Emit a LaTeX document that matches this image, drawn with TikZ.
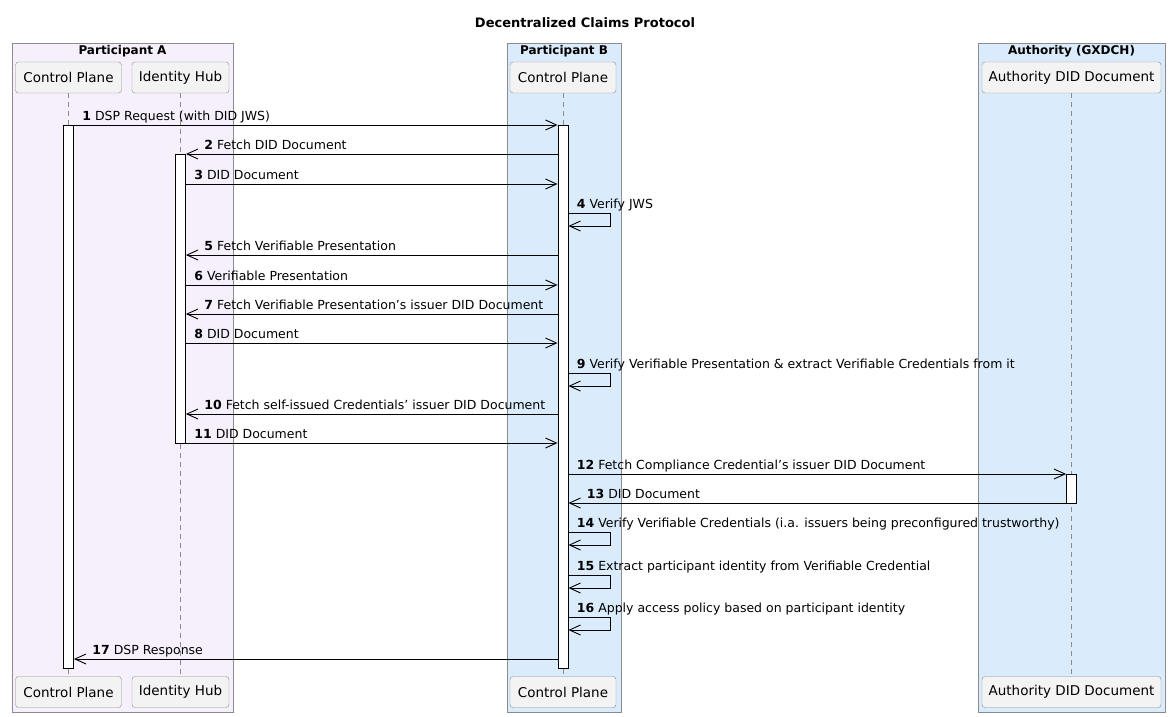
\documentclass[tikz,border=0pt]{standalone}
\usepackage{fontspec}
\setmainfont{DejaVu Sans}
\usetikzlibrary{arrows.meta}
\definecolor{lavender}{HTML}{F5F0FC}
\definecolor{paleblue}{HTML}{DAEBFC}
\definecolor{headgray}{HTML}{F3F3F3}
\definecolor{edgegray}{HTML}{8C8C8C}

\begin{document}
\begin{tikzpicture}[
    x=1pt, y=-1pt,
    font=\fontsize{12.5}{15}\selectfont,
    group/.style={rectangle, draw=edgegray, line width=0.9pt, inner sep=0pt, minimum height=669pt},
    grouptitle/.style={anchor=north, inner sep=3pt, font=\fontsize{12}{15}\selectfont\bfseries},
    actor/.style={rectangle, draw=edgegray, fill=headgray, rounded corners=3pt, minimum height=31pt, inner sep=0pt, font=\fontsize{13.5}{16}\selectfont},
    life/.style={draw=edgegray, dash pattern=on 5pt off 4pt, line width=0.8pt},
    bar/.style={rectangle, draw, fill=white, minimum width=10pt, inner sep=0pt, line width=0.9pt},
    msg/.style={-{Straight Barb[length=11pt, width=10pt]}, line width=0.9pt},
    lblr/.style={anchor=base west, pos=0, xshift=8pt, yshift=5pt, inner sep=0pt},
    lbll/.style={anchor=base west, pos=1, xshift=18pt, yshift=5pt, inner sep=0pt},
    lbls/.style={anchor=base west, xshift=8pt, yshift=5pt, inner sep=0pt}
]

\useasboundingbox (0,0) rectangle (1170,717);

\node[font=\fontsize{13}{15}\selectfont\bfseries] (title) at (585,23) {Decentralized Claims Protocol};

\node[group, fill=lavender, minimum width=221pt] (grpA) at (122.5,377.5) {};
\node[group, fill=paleblue, minimum width=114pt] (grpB) at (564,377.5) {};
\node[group, fill=paleblue, minimum width=187pt] (grpX) at (1071.5,377.5) {};
\node[grouptitle] (tA) at (grpA.north) {Participant A};
\node[grouptitle] (tB) at (grpB.north) {Participant B};
\node[grouptitle] (tX) at (grpX.north) {Authority (GXDCH)};

\node[actor, minimum width=106pt] (cpA) at (68.5,77.5) {Control Plane};
\node[actor, minimum width=97pt] (ihA) at (180.5,77.5) {Identity Hub};
\node[actor, minimum width=106pt] (cpB) at (563,77.5) {Control Plane};
\node[actor, minimum width=179pt] (didX) at (1071.5,77.5) {Authority DID Document};
\node[actor, minimum width=106pt] (cpAf) at (68.5,692) {Control Plane};
\node[actor, minimum width=97pt] (ihAf) at (180.5,692) {Identity Hub};
\node[actor, minimum width=106pt] (cpBf) at (563,692) {Control Plane};
\node[actor, minimum width=179pt] (didXf) at (1071.5,692) {Authority DID Document};

\draw[life] (cpA) -- (cpAf);
\draw[life] (ihA) -- (ihAf);
\draw[life] (cpB) -- (cpBf);
\draw[life] (didX) -- (didXf);

\node[bar, minimum height=543pt] (actA) at (cpA |- 0,396.5) {};
\node[bar, minimum height=289pt] (actI) at (ihA |- 0,298.5) {};
\node[bar, minimum height=543pt] (actB) at (cpB |- 0,396.5) {};
\node[bar, minimum height=29pt] (actX) at (didX |- 0,488.5) {};

\foreach \n/\y in {1/125,2/154,3/184,4/213,5/255,6/285,7/314,8/343,9/373,
                   10/414,11/443,12/474,13/503,14/532,15/575,16/617,17/659}
  \coordinate (m\n) at (0,\y);

\draw[msg] (actA.east |- m1) -- node[lblr] {\textbf{1} DSP Request (with DID JWS)} (actB.west |- m1);
\draw[msg] (actB.west |- m2) -- node[lbll] {\textbf{2} Fetch DID Document} (actI.east |- m2);
\draw[msg] (actI.east |- m3) -- node[lblr] {\textbf{3} DID Document} (actB.west |- m3);
\draw[msg] (actB.east |- m4) node[lbls] {\textbf{4} Verify JWS} -- ++(42,0) -- ++(0,13) -- ++(-42,0);
\draw[msg] (actB.west |- m5) -- node[lbll] {\textbf{5} Fetch Verifiable Presentation} (actI.east |- m5);
\draw[msg] (actI.east |- m6) -- node[lblr] {\textbf{6} Verifiable Presentation} (actB.west |- m6);
\draw[msg] (actB.west |- m7) -- node[lbll] {\textbf{7} Fetch Verifiable Presentation's issuer DID Document} (actI.east |- m7);
\draw[msg] (actI.east |- m8) -- node[lblr] {\textbf{8} DID Document} (actB.west |- m8);
\draw[msg] (actB.east |- m9) node[lbls] {\textbf{9} Verify Verifiable Presentation \& extract Verifiable Credentials from it} -- ++(42,0) -- ++(0,13) -- ++(-42,0);
\draw[msg] (actB.west |- m10) -- node[lbll] {\textbf{10} Fetch self-issued Credentials' issuer DID Document} (actI.east |- m10);
\draw[msg] (actI.east |- m11) -- node[lblr] {\textbf{11} DID Document} (actB.west |- m11);
\draw[msg] (actB.east |- m12) -- node[lblr] {\textbf{12} Fetch Compliance Credential's issuer DID Document} (actX.west |- m12);
\draw[msg] (actX.west |- m13) -- node[lbll] {\textbf{13} DID Document} (actB.east |- m13);
\draw[msg] (actB.east |- m14) node[lbls] {\textbf{14} Verify Verifiable Credentials (i.a. issuers being preconfigured trustworthy)} -- ++(42,0) -- ++(0,13) -- ++(-42,0);
\draw[msg] (actB.east |- m15) node[lbls] {\textbf{15} Extract participant identity from Verifiable Credential} -- ++(42,0) -- ++(0,13) -- ++(-42,0);
\draw[msg] (actB.east |- m16) node[lbls] {\textbf{16} Apply access policy based on participant identity} -- ++(42,0) -- ++(0,13) -- ++(-42,0);
\draw[msg] (actB.west |- m17) -- node[lbll] {\textbf{17} DSP Response} (actA.east |- m17);

\end{tikzpicture}
\end{document}
